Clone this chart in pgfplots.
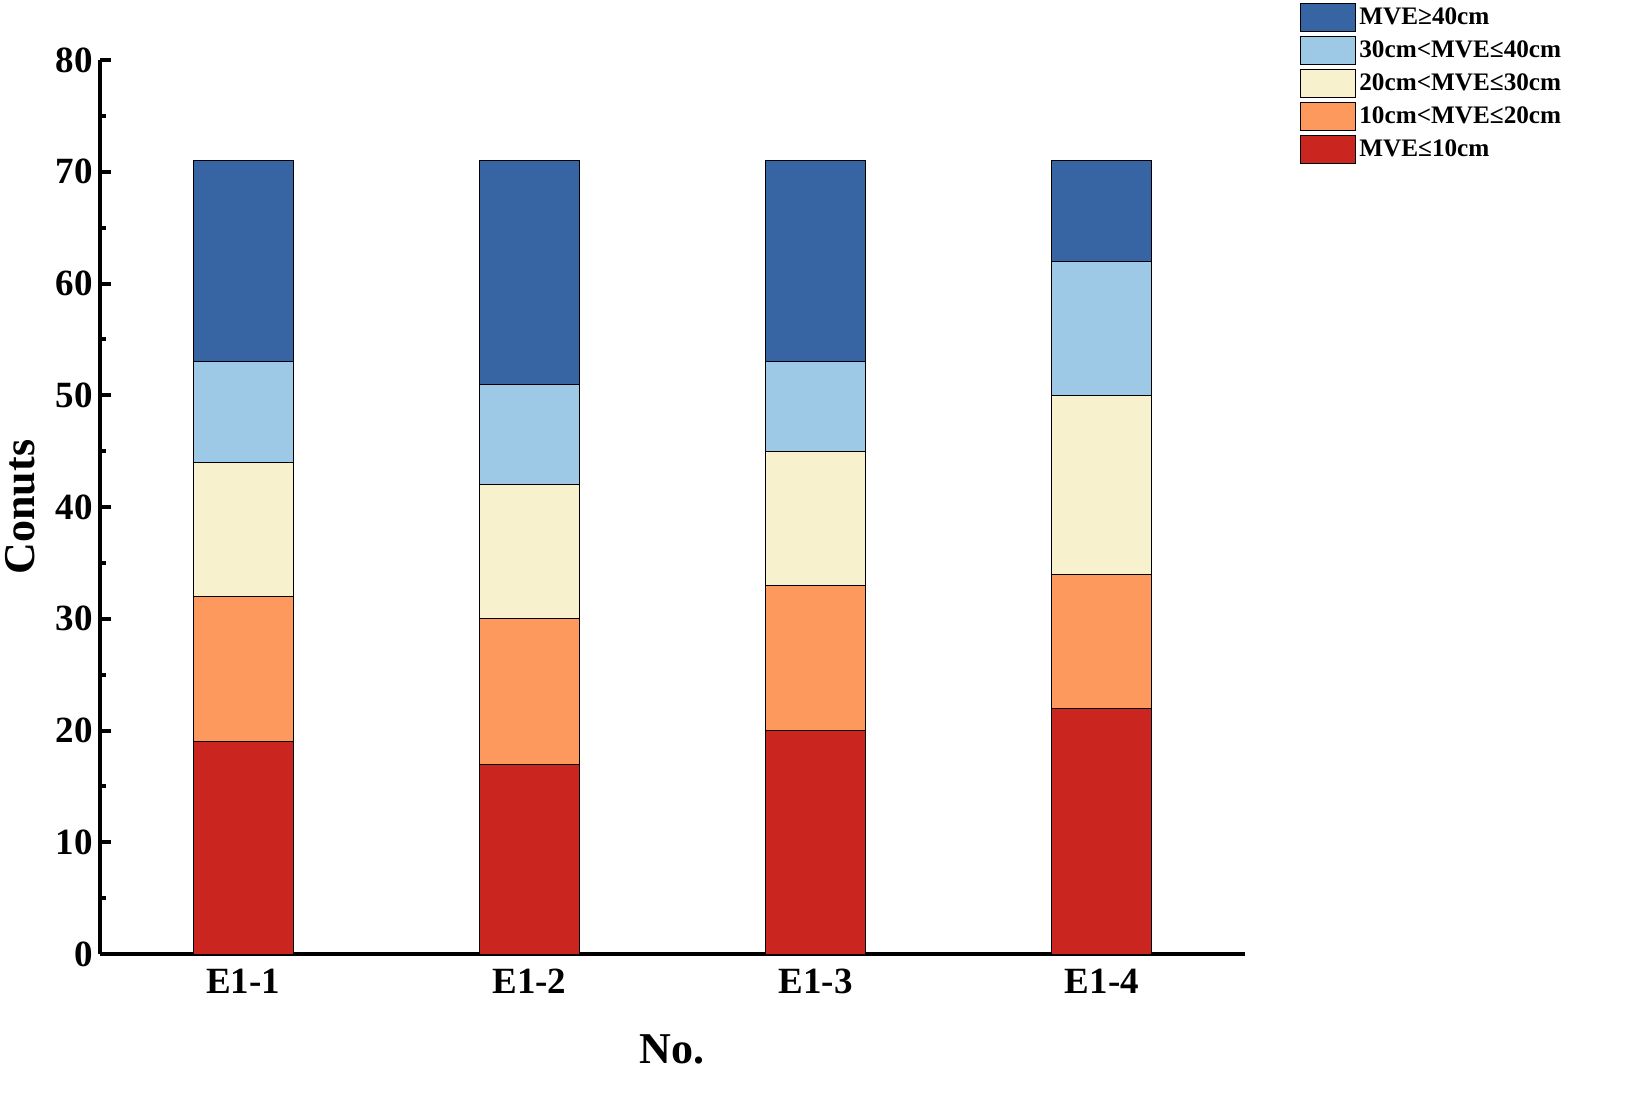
\documentclass[border=0pt]{standalone}
\usepackage{pgfplots}
\pgfplotsset{compat=1.18}
\usepackage{fontspec}
\setmainfont{Liberation Serif}
\definecolor{cA}{RGB}{203,37,31}
\definecolor{cB}{RGB}{253,153,92}
\definecolor{cC}{RGB}{248,241,206}
\definecolor{cD}{RGB}{158,201,230}
\definecolor{cE}{RGB}{55,101,163}
\begin{document}
\begin{tikzpicture}
\begin{axis}[
  scale only axis,
  width=572.5pt, height=447pt,
  ybar stacked,
  bar width=0.35,
  xmin=-0.5, xmax=3.5,
  ymin=0, ymax=80,
  xtick={0,1,2,3},
  xticklabels={E1-1,E1-2,E1-3,E1-4},
  ytick={0,10,...,80},
  minor y tick num=1,
  axis lines*=left,
  axis line style={line width=2pt,-},
  tick align=inside,
  x tick style={draw=none},
  y tick style={line width=2pt,black},
  major tick length=5.5pt,
  minor tick length=3pt,
  /pgf/number format/assume math mode=true,
  ticklabel style={font=\bfseries\fontsize{18.5}{20}\selectfont},
  xticklabel style={yshift=-4pt},
  xlabel={No.},
  ylabel={Conuts},
  xlabel style={font=\bfseries\fontsize{22}{24}\selectfont, at={(axis description cs:0.4996,-0.107)}, anchor=center},
  ylabel style={font=\bfseries\fontsize{22}{24}\selectfont, at={(axis description cs:-0.07,0.5)}, anchor=center},
  every axis plot/.append style={draw=black, line width=0.5pt},
  legend style={draw=none, fill=none, at={(axis description cs:1.048,1.064)}, anchor=north west,
    font=\bfseries\fontsize{12.6}{14}\selectfont, inner sep=0pt, row sep=2pt,
    nodes={inner xsep=1.5pt, inner ysep=0pt}},
  legend cell align=left,
  legend image code/.code={\draw[#1,draw=black,line width=0.5pt] (0pt,-7pt) rectangle (27.5pt,7pt);},
  reverse legend,
]
\addplot[fill=cA] coordinates {(0,19) (1,17) (2,20) (3,22)};
\addplot[fill=cB] coordinates {(0,13) (1,13) (2,13) (3,12)};
\addplot[fill=cC] coordinates {(0,12) (1,12) (2,12) (3,16)};
\addplot[fill=cD] coordinates {(0,9) (1,9) (2,8) (3,12)};
\addplot[fill=cE] coordinates {(0,18) (1,20) (2,18) (3,9)};
\legend{MVE≤10cm, 10cm<MVE≤20cm, 20cm<MVE≤30cm, 30cm<MVE≤40cm, MVE≥40cm}
\coordinate (o) at (rel axis cs:0,0);
\end{axis}
\pgfresetboundingbox
\path[use as bounding box] ([xshift=-50pt,yshift=-80pt]o) rectangle ++(815.5pt,557pt);
\end{tikzpicture}
\end{document}
